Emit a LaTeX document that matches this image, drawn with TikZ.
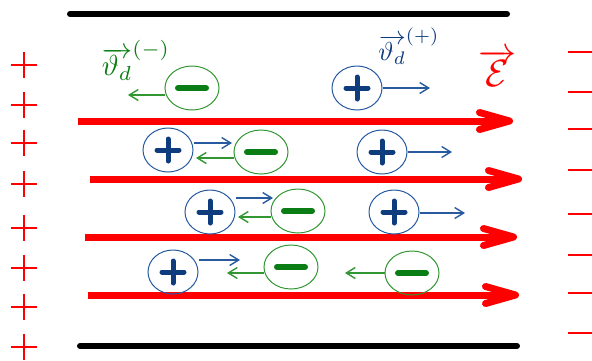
\documentclass[tikz,border=0pt]{standalone}
\usetikzlibrary{calc,positioning,shapes.geometric,arrows.meta}

\definecolor{ionblue}{RGB}{40,90,160}
\definecolor{ionnavy}{RGB}{15,60,125}
\definecolor{elgreen}{RGB}{50,150,50}
\definecolor{eldark}{RGB}{10,125,20}

\begin{document}
\begin{tikzpicture}[x=1pt,y=-1pt,
  ion/.style={ellipse,draw=ionblue,line width=1pt,minimum width=50pt,minimum height=44pt,inner sep=0pt,
    path picture={
      \path (path picture bounding box.center) coordinate (c);
      \draw[ionnavy,line width=5pt,line cap=round] ($(c)+(-11,0)$) -- ($(c)+(11,0)$) ($(c)+(0,-11)$) -- ($(c)+(0,11)$);}},
  electron/.style={ellipse,draw=elgreen,line width=1pt,minimum width=54pt,minimum height=44pt,inner sep=0pt,
    path picture={
      \path (path picture bounding box.center) coordinate (c);
      \draw[eldark,line width=6pt,line cap=round] ($(c)+(-14,0)$) -- ($(c)+(14,0)$);}},
  driftp/.style={ionblue,line width=1.4pt,-{Straight Barb[length=9pt,width=11pt]}},
  drifte/.style={elgreen,line width=1.4pt,-{Straight Barb[length=9pt,width=11pt]}},
  field/.style={red,line width=7pt,-{Straight Barb[length=30pt,width=17pt,round]}},
  plate/.style={black,line width=6pt,line cap=round}
]
\useasboundingbox (0,0) rectangle (592,360);

% plates and field lines
\draw[plate] (70,14) -- (507,14);
\draw[plate] (80,346) -- (517,346);
\foreach \y/\xs/\xe in {121/78/513, 179/90/522, 237/85/517, 295/88/519}
  \draw[field] (\xs,\y) -- (\xe,\y);

% surface charges
\foreach \y in {65,105,143,184,228,268,307,347}
  \draw[red,line width=2.5pt] (11,\y) -- (37,\y) (24,\y-13) -- (24,\y+13);
\foreach \y in {52,92,129,170,214,255,293,333}
  \draw[red,line width=2.5pt] (568,\y) -- (596,\y);

% carriers
\node[electron] (e1) at (192,88) {};
\node[ion] (p1) at (357,88) {};
\node[ion] (p2) at (168,150) {};
\node[electron] (e2) at (261,152) {};
\node[ion] (p3) at (382,152) {};
\node[ion] (p4) at (210,212) {};
\node[electron] (e3) at (298,211) {};
\node[ion] (p5) at (394,212) {};
\node[ion] (p6) at (173,272) {};
\node[electron] (e4) at (291,267) {};
\node[electron] (e5) at (412,273) {};

% drift velocities
\coordinate (vp1) at (430,88);
\coordinate (vp2) at (232,143);
\coordinate (vp3) at (452,152);
\coordinate (vp4) at (273,198);
\coordinate (vp5) at (465,213);
\coordinate (vp6) at (240,260);
\coordinate (ve1) at (128,95);
\coordinate (ve2) at (196,158);
\coordinate (ve3) at (238,217);
\coordinate (ve4) at (227,273);
\coordinate (ve5) at (345,273);
\foreach \n in {1,...,6}
  \draw[driftp] (p\n.east |- vp\n) -- (vp\n);
\foreach \n in {1,...,5}
  \draw[drifte] (e\n.west |- ve\n) -- (ve\n);

\node[eldark,scale=2.9] (vlabe) at (136,60) {$\overrightarrow{\vartheta_d}^{(-)}$};
\node[ionnavy,scale=2.6] (vlabp) at (409,46) {$\overrightarrow{\vartheta_d}^{(+)}$};
\node[red,scale=3.8] (efield) at (497,68) {$\overrightarrow{\mathcal{E}}$};
\end{tikzpicture}
\end{document}
